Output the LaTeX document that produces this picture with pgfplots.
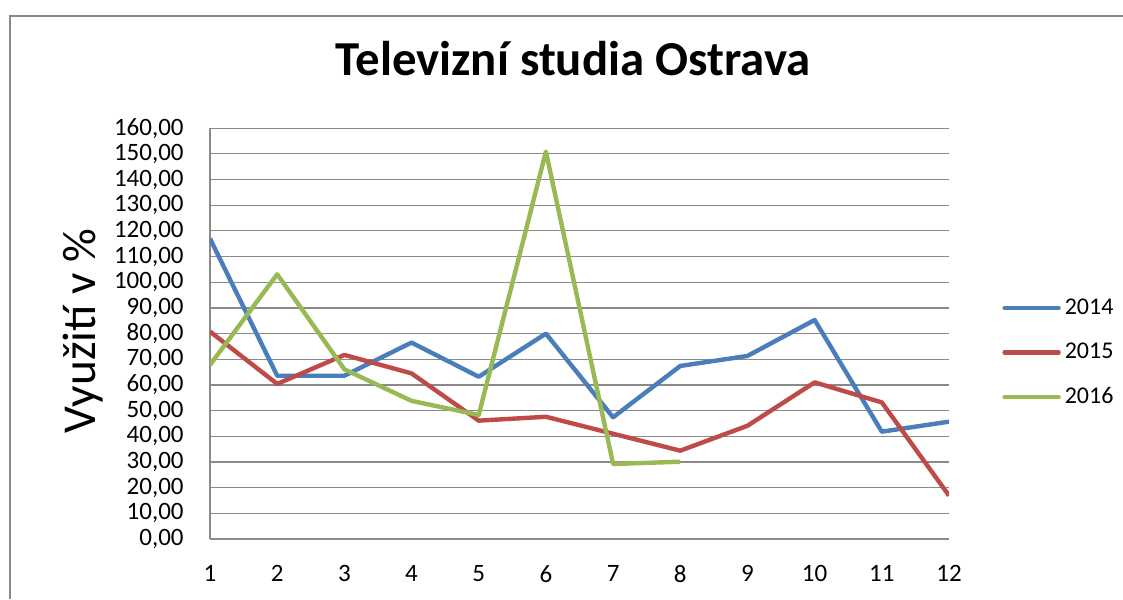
\documentclass[border=0pt]{standalone}
\usepackage{fontspec}
\setmainfont{Carlito}
\usepackage{pgfplots}
\pgfplotsset{compat=1.18}
\definecolor{c2014}{HTML}{4A7EBB}
\definecolor{c2015}{HTML}{BE4B48}
\definecolor{c2016}{HTML}{98B954}
\definecolor{gridgray}{HTML}{8A8A8A}
\begin{document}
\begin{tikzpicture}
% page = 1123x599 px, 1 px = 0.5pt
\useasboundingbox (0,0) rectangle (561.5pt,299.5pt);
\draw[gridgray, line width=1pt] (5pt,0pt) -- (5pt,291.5pt) -- (561.5pt,291.5pt);
\begin{axis}[at={(105pt,30pt)}, anchor=south west,
    scale only axis, width=369.5pt, height=205.4pt,
    xmin=1, xmax=12, ymin=0, ymax=160,
    xtick={1,...,12}, ytick distance=10,
    axis x line*=bottom, axis y line*=left,
    axis line style={-, draw=gridgray, line width=0.6pt},
    ymajorgrids, grid style={gridgray, line width=0.6pt},
    major tick length=0pt,
    /pgf/number format/assume math mode=true,
    tick label style={font=\fontsize{12.5}{15}\selectfont, inner sep=0pt},
    yticklabel style={anchor=east, xshift=-13pt,
        /pgf/number format/.cd, fixed, fixed zerofill, precision=2, use comma},
    xticklabel style={anchor=north, yshift=-13pt},
    title={Televizní studia Ostrava},
    title style={font=\fontsize{24.4}{29}\selectfont\bfseries,
        at={(axis description cs:0.4912,1.098)}, anchor=base, inner sep=0pt},
    ylabel={Využití v \%},
    ylabel style={font=\fontsize{23.6}{28}\selectfont,
        at={(axis description cs:-0.1556,0.5065)}, anchor=base, inner sep=0pt},
    legend style={at={(axis description cs:1.0717,0.4536)}, anchor=west,
        draw=none, fill=none, inner sep=0pt, row sep=9pt,
        font=\fontsize{12}{14}\selectfont},
    legend cell align=left,
    legend image code/.code={\draw[#1, line cap=round] (0pt,0pt) -- (27pt,0pt);},
    every axis plot/.append style={line width=2.2pt, line join=round, mark=none},
]
\addplot[c2014] coordinates {(1,117) (2,63.6) (3,63.6) (4,76.5) (5,63.2) (6,80) (7,47.4) (8,67.4) (9,71.3) (10,85.3) (11,41.8) (12,45.7)};
\addplot[c2015] coordinates {(1,80.8) (2,60.4) (3,71.7) (4,64.5) (5,46.1) (6,47.6) (7,41) (8,34.4) (9,44.1) (10,61) (11,53.2) (12,16.9)};
\addplot[c2016] coordinates {(1,67.8) (2,103.1) (3,66.1) (4,53.8) (5,48.3) (6,150.9) (7,29.2) (8,30.1)};
\legend{2014,2015,2016}
\end{axis}
\end{tikzpicture}
\end{document}
